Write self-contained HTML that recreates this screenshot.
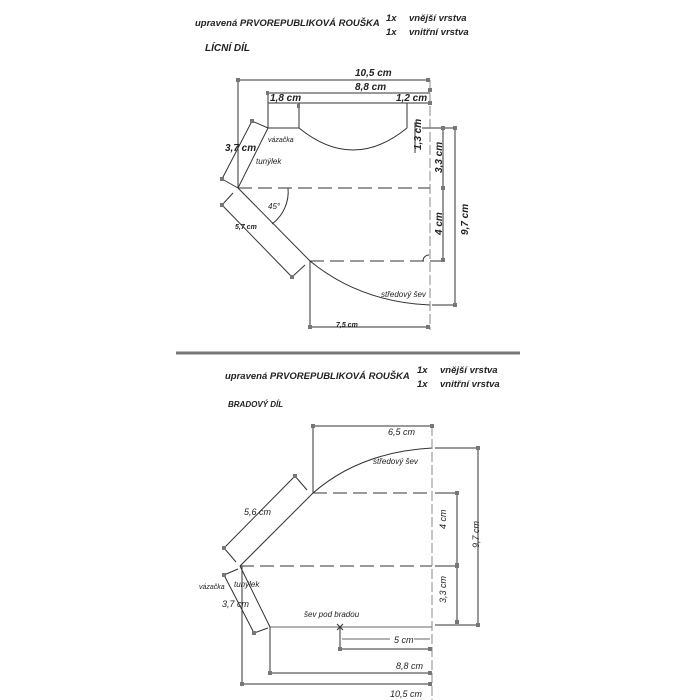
<!DOCTYPE html>
<html><head><meta charset="utf-8"><style>
html,body{margin:0;padding:0;background:#fff;}
svg{display:block;}
text{font-family:"Liberation Sans",sans-serif;font-style:italic;fill:#222;}
</style></head><body>
<svg width="700" height="700" viewBox="0 0 700 700" xmlns="http://www.w3.org/2000/svg">
<g font-weight="bold">
<text x="195" y="26" font-size="9.5">upravená PRVOREPUBLIKOVÁ ROUŠKA</text>
<text x="386" y="21" font-size="9.5">1x</text><text x="409" y="21" font-size="9.5">vnější vrstva</text>
<text x="386" y="35" font-size="9.5">1x</text><text x="409" y="35" font-size="9.5">vnitřní vrstva</text>
<text x="205" y="51" font-size="10">LÍCNÍ DÍL</text>
</g>
<line x1="176" y1="353" x2="520" y2="353" stroke="#777" stroke-width="3"/>
<g font-weight="bold">
<text x="225" y="379" font-size="9.5">upravená PRVOREPUBLIKOVÁ ROUŠKA</text>
<text x="417" y="373" font-size="9.5">1x</text><text x="440" y="373" font-size="9.5">vnější vrstva</text>
<text x="417" y="387" font-size="9.5">1x</text><text x="440" y="387" font-size="9.5">vnitřní vrstva</text>
<text x="228" y="407" font-size="8">BRADOVÝ DÍL</text>
</g>

<!-- TOP DIAGRAM -->
<g stroke="#333" stroke-width="1" fill="none">
<polyline points="238,188 238,80 428,80"/>
<line x1="268" y1="93" x2="430" y2="93"/>
<line x1="268" y1="103" x2="430" y2="103"/>
<line x1="268" y1="93" x2="268" y2="128"/>
<line x1="299" y1="103" x2="299" y2="128"/>
<line x1="407" y1="103" x2="407" y2="128"/>
<line x1="268" y1="128" x2="299" y2="128"/>
<path d="M299,128 Q353,172 407,128"/>
<line x1="268" y1="128" x2="238" y2="188"/>
<line x1="238" y1="188" x2="310" y2="261"/>
<path d="M310,261 Q360,302 430,305"/>
<line x1="310" y1="261" x2="310" y2="327"/>
<line x1="310" y1="327" x2="428" y2="327"/>
<polyline points="422,128 443,128 443,261 430,261"/>
<polyline points="430,128 455,128 455,305 432,305"/>
<line x1="415" y1="122" x2="415" y2="153"/>
<line x1="252" y1="121" x2="222" y2="179"/>
<line x1="252" y1="121" x2="268" y2="128"/>
<line x1="222" y1="179" x2="238" y2="188"/>
<line x1="222" y1="205" x2="292" y2="277"/>
<line x1="222" y1="205" x2="233" y2="193"/>
<line x1="292" y1="277" x2="305" y2="265"/>
<path d="M272,224 A40,40 0 0 0 288,188"/>
<path d="M423,261 A6,6 0 0 1 429,255"/>
<line stroke-dasharray="14,6" x1="238" y1="188" x2="430" y2="188"/>
<line stroke-dasharray="14,6" x1="310" y1="261" x2="430" y2="261"/>
<line stroke="#888" stroke-dasharray="10,3" x1="430" y1="80" x2="430" y2="330"/>
</g>
<g fill="#777">
<rect x="236" y="78" width="4" height="4"/><rect x="426" y="78" width="4" height="4"/>
<rect x="266" y="91" width="3" height="4"/><rect x="428" y="101" width="4" height="4"/>
<rect x="297" y="104" width="3" height="4"/><rect x="428" y="88" width="4" height="4"/>
<rect x="250" y="119" width="4" height="4"/><rect x="220" y="177" width="4" height="4"/>
<rect x="220" y="203" width="4" height="4"/><rect x="290" y="275" width="4" height="4"/>
<rect x="441" y="126" width="4" height="4"/><rect x="441" y="186" width="4" height="4"/><rect x="441" y="258" width="4" height="4"/>
<rect x="453" y="126" width="4" height="4"/><rect x="453" y="303" width="4" height="4"/>
<rect x="308" y="325" width="4" height="4"/><rect x="426" y="325" width="4" height="4"/>
</g>
<g font-weight="bold">
<text x="355" y="76" font-size="10">10,5 cm</text>
<text x="355" y="90" font-size="10">8,8 cm</text>
<text x="270" y="101" font-size="10">1,8 cm</text>
<text x="396" y="101" font-size="10">1,2 cm</text>
<text x="225" y="151" font-size="10">3,7 cm</text>
<text x="235" y="229" font-size="7">5,7 cm</text>
<text x="336" y="327" font-size="7">7,5 cm</text>
<text transform="translate(421,150) rotate(-90)" font-size="10">1,3 cm</text>
<text transform="translate(442,173) rotate(-90)" font-size="10">3,3 cm</text>
<text transform="translate(442,235) rotate(-90)" font-size="10">4 cm</text>
<text transform="translate(468,235) rotate(-90)" font-size="10">9,7 cm</text>
</g>
<text x="268" y="142" font-size="7">vázačka</text>
<text x="256" y="164" font-size="8">tunýlek</text>
<text x="268" y="209" font-size="8">45°</text>
<text x="381" y="297" font-size="8">středový šev</text>

<!-- BOTTOM DIAGRAM -->
<g stroke="#333" stroke-width="1" fill="none">
<polyline points="313,493 313,426 432,426"/>
<path d="M313,493 Q360,452 432,448"/>
<polyline points="435,448 478,448 478,625 435,625"/>
<polyline points="435,493 457,493 457,622"/>
<line x1="435" y1="566" x2="457" y2="566"/>
<line x1="240" y1="566" x2="313" y2="493"/>
<line x1="224" y1="548" x2="295" y2="476"/>
<line x1="224" y1="548" x2="236" y2="562"/>
<line x1="295" y1="476" x2="307" y2="490"/>
<line x1="240" y1="566" x2="270" y2="627"/>
<line x1="224" y1="575" x2="254" y2="633"/>
<line x1="224" y1="575" x2="238" y2="569"/>
<line x1="254" y1="633" x2="268" y2="628"/>
<line x1="270" y1="627" x2="432" y2="627" stroke="#666"/>
<line x1="337" y1="624" x2="343" y2="630"/><line x1="343" y1="624" x2="337" y2="630"/>
<line x1="342" y1="639" x2="390" y2="639" stroke="#666"/>
<line x1="414" y1="639" x2="430" y2="639" stroke="#666"/>
<polyline points="340,627 340,649 430,649"/>
<polyline points="270,627 270,673 430,673"/>
<polyline points="242,566 242,684 430,684"/>
<line stroke-dasharray="14,6" x1="313" y1="493" x2="432" y2="493"/>
<line stroke-dasharray="14,6" x1="240" y1="566" x2="432" y2="566"/>
<line stroke="#888" stroke-dasharray="10,3" x1="432" y1="426" x2="432" y2="700"/>
</g>
<g fill="#777">
<rect x="311" y="424" width="4" height="4"/><rect x="430" y="424" width="4" height="4"/>
<rect x="476" y="446" width="4" height="4"/><rect x="476" y="623" width="4" height="4"/>
<rect x="455" y="491" width="4" height="4"/><rect x="455" y="563" width="4" height="5"/><rect x="455" y="620" width="4" height="4"/>
<rect x="222" y="546" width="4" height="4"/><rect x="293" y="474" width="4" height="4"/>
<rect x="222" y="573" width="4" height="4"/><rect x="252" y="631" width="4" height="4"/>
<rect x="338" y="647" width="4" height="4"/><rect x="428" y="647" width="4" height="4"/>
<rect x="268" y="671" width="4" height="4"/><rect x="428" y="671" width="4" height="4"/>
<rect x="240" y="682" width="4" height="4"/><rect x="428" y="682" width="4" height="4"/>
</g>
<text x="388" y="435" font-size="9">6,5 cm</text>
<text x="373" y="464" font-size="8">středový šev</text>
<text x="244" y="515" font-size="9">5,6 cm</text>
<text transform="translate(446,529) rotate(-90)" font-size="9">4 cm</text>
<text transform="translate(446,603) rotate(-90)" font-size="9">3,3 cm</text>
<text transform="translate(479,548) rotate(-90)" font-size="9">9,7 cm</text>
<text x="199" y="589" font-size="7">vázačka</text>
<text x="234" y="587" font-size="8">tunýlek</text>
<text x="222" y="607" font-size="9">3,7 cm</text>
<text x="304" y="617" font-size="8">šev pod bradou</text>
<text x="394" y="643" font-size="9">5 cm</text>
<text x="396" y="669" font-size="9">8,8 cm</text>
<text x="390" y="697" font-size="9">10,5 cm</text>
</svg>
</body></html>
